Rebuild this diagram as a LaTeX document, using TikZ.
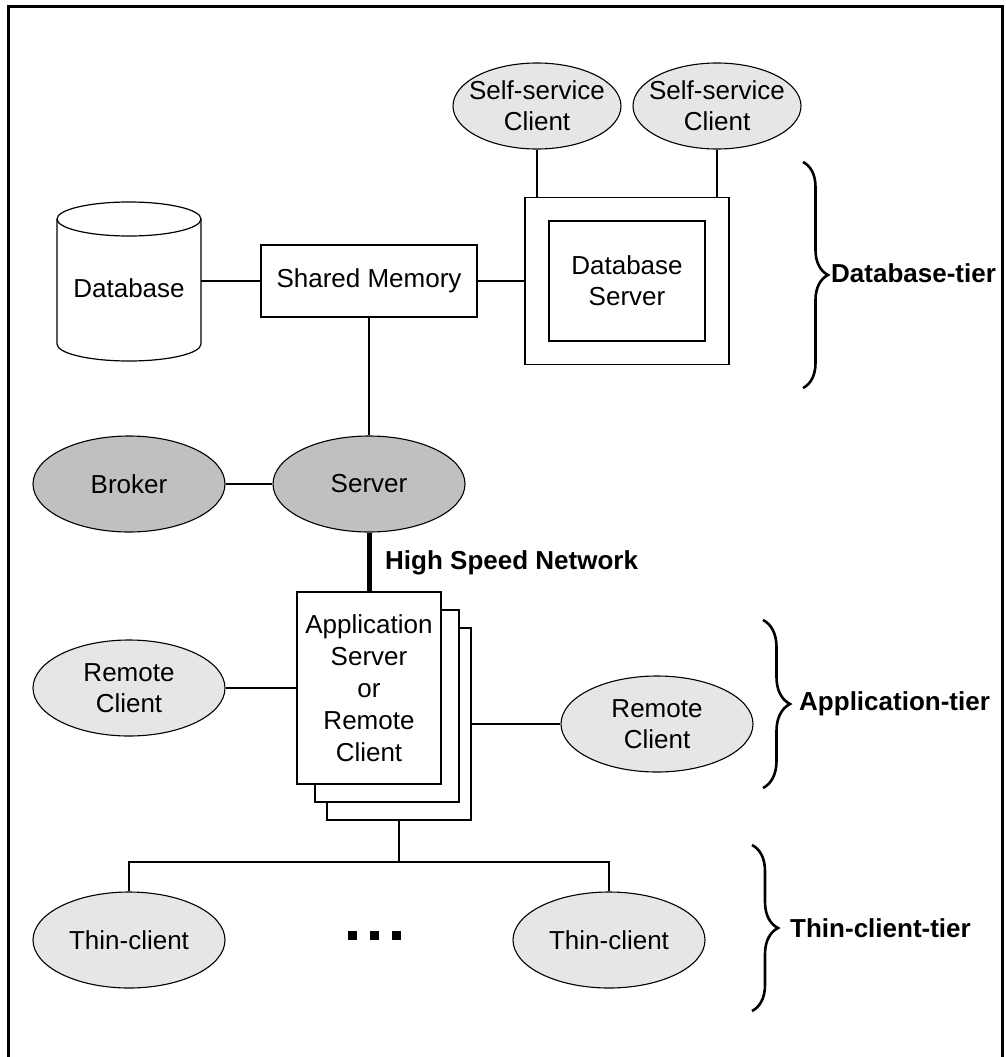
\documentclass[tikz,border=0pt]{standalone}
\usepackage{fontspec}
\setmainfont{Liberation Sans}
\usetikzlibrary{shapes.geometric,decorations.pathreplacing}
\definecolor{lightfill}{HTML}{E6E6E6}
\definecolor{darkfill}{HTML}{C0C0C0}
\tikzset{
  txt/.style={font=\fontsize{26}{31}\selectfont, align=center, inner sep=0pt},
  boldtxt/.style={font=\fontsize{26}{31}\selectfont\bfseries, inner sep=0pt},
  oval/.style={txt, ellipse, draw, line width=1.1, minimum width=192, minimum height=96},
  lightoval/.style={oval, fill=lightfill},
  darkoval/.style={oval, fill=darkfill},
  ssoval/.style={ellipse, draw, line width=1.1, fill=lightfill, inner sep=0pt, minimum width=168, minimum height=86},
  box/.style={txt, draw, line width=1.2, fill=white},
  conn/.style={line width=1.2},
  bracedeco/.style={decorate, line width=2.6, decoration={brace, amplitude=#1}},
  dotsq/.style={fill=black, minimum size=9, inner sep=0pt}
}
\begin{document}
\begin{tikzpicture}[x=1pt, y=-1pt]
\useasboundingbox (0,0) rectangle (1006,1057);
% frame
\draw[line width=3] (8,1065) -- (8,7) -- (1002,7) -- (1002,1065);

% database cylinder
\node[minimum width=144, minimum height=160, inner sep=0pt] (db) at (129,281) {};
\draw[line width=1.2] (57,219) -- (57,344) arc[start angle=180, end angle=360, x radius=72, y radius=-17] -- (201,219);
\draw[line width=1.2] (129,219) ellipse[x radius=72, y radius=17];
\node[txt] (dblabel) at (129,288) {Database};

% shared memory
\node[box, minimum width=216, minimum height=72] (shm) at (369,281) {Shared Memory};

% database server
\node[box, minimum width=204, minimum height=167] (dbsrv) at (627,281) {};
\node[box, minimum width=156, minimum height=120] (dbin) at (627,281) {Database\\Server};

% self-service clients
\node[ssoval] (ss1) at (537,106) {};
\node[txt] (ss1t) at (ss1.center) {Self-service\\Client};
\node[ssoval] (ss2) at (717,106) {};
\node[txt] (ss2t) at (ss2.center) {Self-service\\Client};

% broker / server
\node[darkoval] (broker) at (129,484) {Broker};
\node[darkoval] (server) at (369,484) {Server};

% application server stack
\node[box, minimum width=144, minimum height=192] (app3) at (399,724) {};
\node[box, minimum width=144, minimum height=192] (app2) at (387,706) {};
\node[box, minimum width=144, minimum height=192] (app1) at (369,688) {Application\\[1pt]Server\\[1pt]or\\[1pt]Remote\\[1pt]Client};

% remote clients
\node[lightoval] (rc1) at (129,688) {Remote\\Client};
\node[lightoval] (rc2) at (657,724) {Remote\\Client};

% thin clients
\node[lightoval] (tc1) at (129,940) {Thin-client};
\node[lightoval] (tc2) at (609,940) {Thin-client};
\node[dotsq] (d1) at (352,935.5) {};
\node[dotsq] (d2) at (374,935.5) {};
\node[dotsq] (d3) at (396,935.5) {};

% connectors
\draw[conn] (db.east) -- (shm.west);
\draw[conn] (shm.east) -- (dbsrv.west);
\draw[conn] (ss1.south) -- (ss1.south |- dbsrv.north);
\draw[conn] (ss2.south) -- (ss2.south |- dbsrv.north);
\draw[conn] (shm.south) -- (server.north);
\draw[conn] (broker.east) -- (server.west);
\draw[line width=5] (server.south) -- (app1.north);
\node[boldtxt, anchor=west] (hsn) at (385,563) {High Speed Network};
\draw[conn] (rc1.east) -- (app1.west);
\draw[conn] (app3.east) -- (rc2.west);
\coordinate (tj) at (399,862);
\draw[conn] (app3.south) -- (tj);
\draw[conn] (tc1.north) |- (tj) -| (tc2.north);

% tier braces
\coordinate (b1t) at (803,162);
\coordinate (b1b) at (803,388);
\draw[bracedeco=25] (b1t) -- (b1b);
\node[boldtxt, anchor=west] (dbtier) at (831,273) {Database-tier};

\coordinate (b2t) at (763,620);
\coordinate (b2b) at (763,788);
\draw[bracedeco=27] (b2t) -- (b2b);
\node[boldtxt, anchor=west] (apptier) at (799,704) {Application-tier};

\coordinate (b3t) at (752,845);
\coordinate (b3b) at (752,1011);
\draw[bracedeco=26] (b3t) -- (b3b);
\node[boldtxt, anchor=west] (thintier) at (790,928) {Thin-client-tier};
\end{tikzpicture}
\end{document}
